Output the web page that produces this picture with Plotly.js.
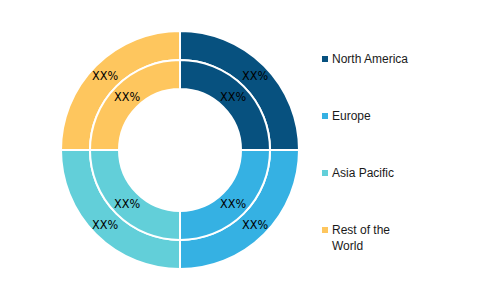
<!DOCTYPE html>
<html><head><meta charset="utf-8">
<script src="https://cdn.plot.ly/plotly-3.0.1.min.js"></script>
<style>html,body{margin:0;padding:0;background:#fff}#chart{width:500px;height:300px}</style>
</head><body><div id="chart"></div>
<script>
const categories = ["North America", "Europe", "Asia Pacific", "Rest of the World"];
const legendLabels = ["North America", "Europe", "Asia Pacific", "Rest of the<br>World"];
const outerValues = [25, 25, 25, 25];
const innerValues = [25, 25, 25, 25];
const outerText = ["XX%", "XX%", "XX%", "XX%"];
const innerText = ["XX%", "XX%", "XX%", "XX%"];
const colors = ["#07517f", "#35b1e3", "#62cfd9", "#fec65e"];

const W = 500, H = 300, cx = 180, cy = 150;
const rOuter = 119, rMid = 90, rInner = 61;
function dom(r){ return {x:[(cx-r)/W,(cx+r)/W], y:[(H-cy-r)/H,(H-cy+r)/H]}; }

const labelFont = {family: "Liberation Sans Narrow, DejaVu Sans Condensed, Liberation Sans, sans-serif", size: 12.5, color: "#000"};
const pieCommon = {
  type: "pie", labels: categories, sort: false, direction: "clockwise", rotation: 0,
  marker: {colors: colors, line: {color: "#fff", width: 2}},
  textinfo: "none", hoverinfo: "label", showlegend: false
};
const traces = [
  Object.assign({}, pieCommon, {values: outerValues, hole: rMid/rOuter, domain: dom(rOuter)}),
  Object.assign({}, pieCommon, {values: innerValues, hole: rInner/rMid, domain: dom(rMid)})
];
// legend markers (one per category index)
traces.push({type: "scatter", mode: "markers", x: categories.map(() => 0), y: categories.map((c, i) => i),
  marker: {symbol: "square", size: 6, color: colors, line: {width: 0}}, hoverinfo: "skip", showlegend: false});

// slice labels placed at each slice's mid angle
const annotations = [];
function addRingLabels(values, texts, r){
  const total = values.reduce((a, b) => a + b, 0);
  let cum = 0;
  values.forEach((v, i) => {
    const mid = (cum + v / 2) / total * 2 * Math.PI; cum += v;
    const px = cx + r * Math.sin(mid), py = cy - r * Math.cos(mid);
    annotations.push({xref: "paper", yref: "paper", x: px / W, y: 1 - py / H, text: texts[i],
      showarrow: false, xanchor: "center", yanchor: "middle", font: labelFont});
  });
}
addRingLabels(outerValues, outerText, 106);
addRingLabels(innerValues, innerText, 75);
// legend labels
legendLabels.forEach((t, i) => {
  annotations.push({xref: "x", yref: "y", x: 0, y: i, text: t, showarrow: false, align: "left",
    xanchor: "left", yanchor: "top", xshift: 5, yshift: 9,
    font: {family: "Liberation Sans, Arial, sans-serif", size: 12, color: "#1a1a1a"}});
});

const y0 = -59 / 57, y1 = y0 + H / 57;
const layout = {
  width: W, height: H, margin: {l:0, r:0, t:0, b:0},
  paper_bgcolor: "#fff", plot_bgcolor: "rgba(0,0,0,0)",
  xaxis: {visible: false, domain: [0.6, 1], range: [-0.125, 0.875], fixedrange: true},
  yaxis: {visible: false, domain: [0, 1], range: [y1, y0], fixedrange: true},
  showlegend: false,
  annotations: annotations
};
Plotly.newPlot("chart", traces, layout, {staticPlot: true});
</script></body></html>
